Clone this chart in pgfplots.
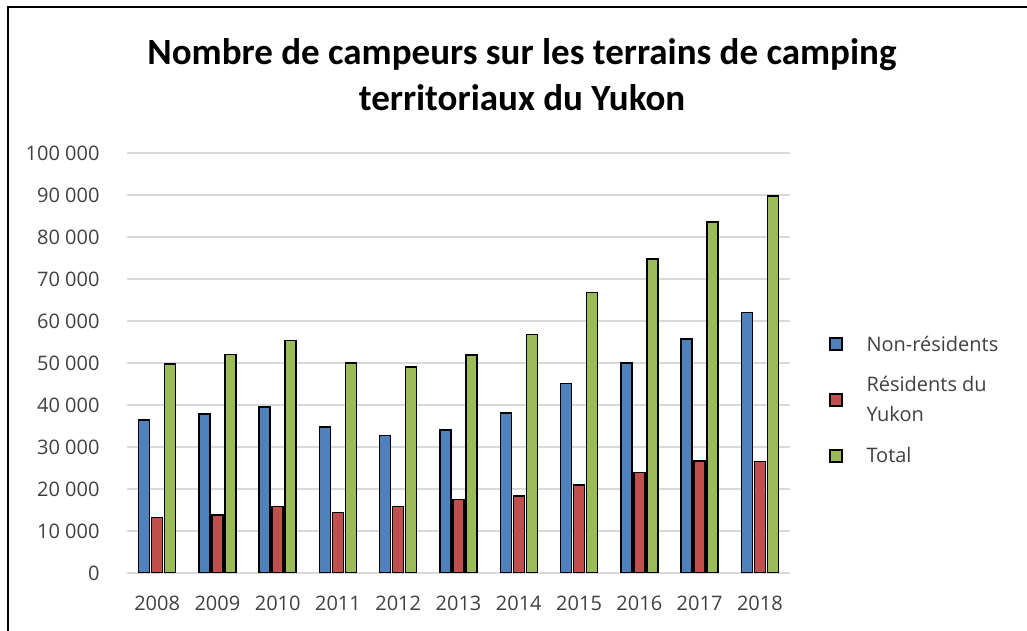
\documentclass[border=0pt]{standalone}
\usepackage{pgfplots}
\pgfplotsset{compat=1.18}
\usepackage{fontspec}
\setmainfont{Open Sans}
\newfontfamily\titlefont{Carlito}
\definecolor{cblue}{HTML}{4F81BD}
\definecolor{cred}{HTML}{C0504D}
\definecolor{cgreen}{HTML}{9BBB59}
\definecolor{gridgray}{HTML}{D9D9D9}
\definecolor{txtgray}{HTML}{404040}
\begin{document}
\begin{tikzpicture}[x=1pt,y=1pt]
\useasboundingbox (0,0) rectangle (1027,631);
\draw[line width=2pt] (8,0) -- (8,623.5) -- (1027,623.5);
\node[align=center,font=\titlefont\bfseries\fontsize{37}{46}\selectfont] at (522,556) {Nombre de campeurs sur les terrains de camping\\territoriaux du Yukon};
\begin{axis}[
  at={(127pt,58pt)}, anchor=south west,
  width=663pt, height=420pt, scale only axis,
  ybar=2pt, bar width=11pt,
  xmin=-0.5, xmax=10.5,
  ymin=0, ymax=100000,
  xtick=data,
  xticklabels={2008,2009,2010,2011,2012,2013,2014,2015,2016,2017,2018},
  ytick={0,10000,20000,30000,40000,50000,60000,70000,80000,90000,100000},
  yticklabels={0,10 000,20 000,30 000,40 000,50 000,60 000,70 000,80 000,90 000,100 000},
  scaled y ticks=false,
  axis line style={draw=none},
  major tick length=0pt,
  ymajorgrids, grid style={gridgray, line width=1.5pt},
  tick label style={font=\fontsize{20}{24}\selectfont, text=txtgray},
  yticklabel style={xshift=-24pt},
  xticklabel style={yshift=-19pt},
  legend style={draw=none, fill=none, at={(1.054,0.412)}, anchor=west,
    font=\fontsize{20}{30}\selectfont, text=txtgray, row sep=20pt, column sep=22pt,
    cells={anchor=west, align=left}},
  legend image code/.code={\draw[#1,line width=1.5pt] (0pt,-6pt) rectangle (12pt,6pt);},
  every axis plot/.append style={draw=black, line width=1.5pt},
]
\addplot[fill=cblue] coordinates {(0,36400) (1,37900) (2,39500) (3,34800) (4,32700) (5,34000) (6,38100) (7,45100) (8,50000) (9,55700) (10,62000)};
\addplot[fill=cred] coordinates {(0,13200) (1,13800) (2,15800) (3,14400) (4,15800) (5,17500) (6,18300) (7,21000) (8,23900) (9,26700) (10,26600)};
\addplot[fill=cgreen] coordinates {(0,49800) (1,52000) (2,55400) (3,50000) (4,49100) (5,51900) (6,56800) (7,66800) (8,74800) (9,83600) (10,89800)};
\addlegendentry{Non-résidents}
\addlegendentry{Résidents du\\Yukon}
\addlegendentry{Total}
\end{axis}
\end{tikzpicture}
\end{document}
